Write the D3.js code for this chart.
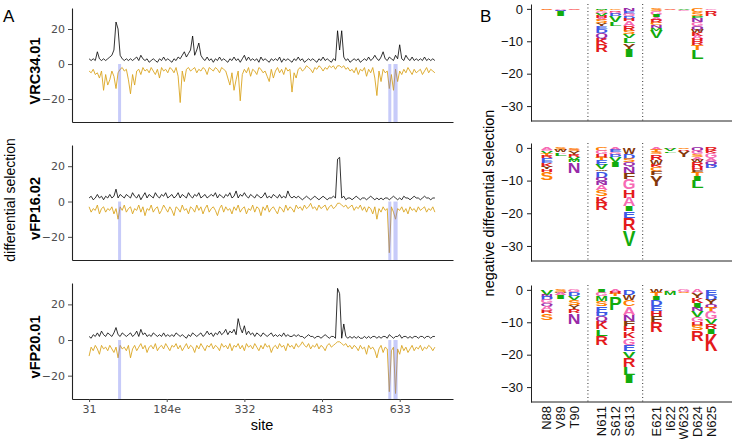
<!DOCTYPE html>
<html><head><meta charset="utf-8">
<script src="https://cdn.jsdelivr.net/npm/d3@7"></script>
<style>body{margin:0;background:#fff}</style>
</head><body><svg id="c" width="732" height="439"></svg>
<script>
// ---------------- DATA ----------------
const antibodies = ["VRC34.01", "vFP16.02", "vFP20.01"];
const xTickSites = [0, 150, 300, 450, 600];
const xTickLabels = ["31", "184e", "332", "483", "633"];
const yTicksLeft = [-20, 0, 20];
const yTicksRight = [0, -10, -20, -30];
const sampleStep = 4; // one value every 4 sequential sites
const highlightRanges = [[56, 61], [578, 583], [588, 596]];

const posVRC34 = [3,2,3,2,7,3,2,3,2,3, 4,5,8,24,20,5,3,2,3,2, 3,2,3,4,2,5,3,2,3,1, 2,3,2,1,3,2,4,2,3,2,
 1,3,2,4,3,5,7,4,6,8, 16,5,8,12,5,3,2,4,2,3, 1,3,2,4,2,3,2,1,3,2, 4,2,3,1,3,5,2,4,2,3,
 2,3,1,4,2,3,2,1,3,2, 3,2,4,1,3,2,3,2,1,3, 2,4,2,3,1,2,3,2,3,2, 1,3,2,4,2,3,2,1,3,2,
 19,8,19,4,2,3,1,2,3,2, 3,1,2,3,2,4,2,3,5,3, 2,4,7,3,2,4,3,2,5,3, 11,3,2,5,3,2,4,2,3,2,
 3,2,4,2,3,2,3,2];
const negVRC34 = [-4,-5,-3,-6,-5,-8,-4,-15,-6,-12, -9,-4,-7,-14,-5,-3,-2,-4,-3,-9, -17,-6,-12,-4,-3,-6,-2,-4,-3,-5,
 -2,-4,-6,-3,-8,-2,-4,-3,-5,-2, -3,-5,-2,-7,-22,-4,-10,-3,-2,-4, -3,-2,-5,-3,-4,-2,-3,-6,-2,-3,
 -4,-2,-3,-5,-2,-3,-4,-8,-12,-5, -15,-9,-4,-21,-6,-3,-5,-2,-7,-3, -4,-6,-2,-3,-5,-4,-7,-10,-3,-8,
 -4,-2,-5,-3,-6,-2,-4,-3,-16,-5, -8,-3,-2,-4,-3,-1,-2,-3,-5,-2, -3,-1,-2,-4,-2,-3,-1,-2,-1,-3,
 -1,-1,-2,-1,-3,-2,-4,-3,-5,-2, -6,-3,-4,-2,-7,-3,-5,-2,-8,-18, -4,-10,-3,-5,-4,-14,-6,-15,-3,-10,
 -4,-6,-3,-5,-2,-4,-6,-3,-5,-4, -3,-6,-4,-2,-5,-3,-4,-5];

const posVFP16 = [2,3,1,2,4,2,3,1,3,2, 4,2,3,7,2,4,3,2,4,3, 2,5,3,2,4,1,3,5,2,4, 3,2,5,3,2,4,3,5,2,3,
 4,2,3,5,2,4,3,2,5,3, 2,4,3,5,2,3,4,2,3,4, 3,5,2,4,3,2,4,3,5,2, 3,6,2,4,3,5,3,2,4,3,
 2,4,3,2,3,5,2,3,2,4, 3,2,4,2,3,2,6,3,2,3, 2,3,2,1,2,3,2,1,2,3, 2,1,2,3,2,1,2,2,3,2,
 24,25,2,3,1,2,2,1,2,3, 2,1,2,2,1,2,3,2,1,2, 1,2,1,2,2,1,2,3,2,1, 2,1,3,2,2,1,2,3,2,2,
 1,2,3,2,2,1,2,2];
const negVFP16 = [-3,-6,-4,-5,-2,-7,-4,-3,-6,-4, -5,-3,-7,-4,-10,-3,-5,-2,-6,-4, -3,-7,-4,-5,-2,-6,-3,-8,-4,-5,
 -2,-6,-4,-3,-7,-5,-2,-4,-6,-3, -5,-8,-3,-4,-6,-2,-5,-4,-7,-3, -4,-6,-2,-5,-3,-7,-4,-2,-6,-4,
 -3,-5,-8,-4,-2,-6,-3,-5,-4,-7, -3,-5,-2,-6,-4,-3,-7,-4,-5,-2, -6,-3,-4,-8,-3,-5,-2,-6,-4,-3,
 -5,-7,-3,-4,-6,-2,-5,-3,-4,-6, -2,-4,-3,-5,-2,-4,-3,-1,-4,-3, -5,-2,-4,-3,-2,-5,-3,-2,-4,-3,
 -1,-1,-2,-3,-2,-4,-3,-2,-5,-3, -4,-2,-5,-3,-6,-3,-4,-7,-3,-10, -4,-6,-3,-5,-4,-29,-3,-6,-10,-4,
 -5,-3,-6,-4,-7,-3,-5,-4,-6,-3, -5,-4,-3,-6,-4,-5,-3,-6];

const posVFP20 = [2,1,3,2,4,2,5,3,2,4, 3,2,4,7,3,2,4,3,2,3, 4,2,3,5,2,6,3,4,2,3, 2,4,3,2,3,2,4,2,3,2,
 3,2,4,3,2,3,2,1,3,2, 4,3,2,3,4,2,3,5,3,4, 2,4,3,5,3,4,6,3,5,4, 6,3,12,7,4,8,3,5,3,4,
 2,4,3,2,4,3,2,3,4,2, 3,2,3,2,4,2,3,2,2,3, 2,3,2,2,1,2,3,2,2,1, 2,2,1,2,3,2,1,2,2,1,
 29,26,1,9,2,1,2,1,2,1, 2,1,1,2,1,2,1,2,2,1, 2,1,2,2,1,3,2,1,2,2, 3,1,2,2,1,2,1,2,2,1,
 2,2,1,2,2,1,2,2];
const negVFP20 = [-9,-4,-6,-3,-5,-8,-3,-5,-4,-6, -3,-5,-7,-4,-10,-3,-5,-4,-6,-3, -10,-5,-3,-6,-4,-2,-5,-3,-7,-4,
 -3,-5,-2,-6,-4,-3,-5,-2,-4,-6, -3,-4,-2,-5,-3,-6,-4,-2,-5,-3, -4,-7,-3,-5,-2,-4,-6,-3,-4,-2,
 -5,-3,-4,-6,-2,-4,-3,-5,-2,-6, -3,-4,-2,-5,-3,-6,-2,-4,-3,-5, -2,-4,-6,-3,-5,-2,-4,-3,-7,-4,
 -3,-5,-2,-4,-3,-6,-2,-4,-3,-5, -2,-4,-3,-1,-3,-4,-2,-5,-3,-4, -2,-5,-3,-4,-6,-3,-2,-4,-3,-2,
 -1,-1,-2,-3,-2,-4,-3,-5,-3,-4, -6,-3,-5,-4,-8,-3,-5,-4,-6,-10, -5,-3,-7,-4,-5,-29,-6,-4,-30,-5,
 -8,-3,-6,-4,-7,-5,-3,-6,-4,-5, -3,-6,-4,-5,-3,-4,-6,-4];

const logoGroups = [["N88","V89","T90"], ["N611","S612","S613"], ["E621","I622","W623","D624","N625"]];
const logoSites = ["N88","V89","T90","N611","S612","S613","E621","I622","W623","D624","N625"];

// each column: letters from 0 downward, [amino acid, negative differential selection]
const logoVRC34 = [
 [["G",0.3],["S",0.2]],
 [["A",0.3],["N",0.3],["D",0.2],["I",1.4]],
 [["S",0.3],["G",0.2]],
 [["M",0.3],["T",0.5],["G",0.7],["V",0.8],["H",0.6],["A",0.6],["S",1.0],["Y",0.8],["E",0.8],["D",1.3],["Q",1.6],["K",1.8],["R",2.5]],
 [["C",0.4],["R",0.5],["G",0.7],["D",0.6],["V",1.8],["L",1.3]],
 [["N",0.8],["E",0.8],["G",0.7],["D",0.7],["H",0.8],["A",1.5],["R",1.6],["S",1.0],["V",1.0],["L",1.6],["Y",2.2],["I",2.3]],
 [["S",0.8],["G",1.0],["I",0.7],["A",0.8],["R",1.0],["C",0.8],["N",0.9],["M",0.7],["V",2.4]],
 [["S",0.3],["A",0.2]],
 [["V",0.4],["G",0.2]],
 [["C",1.0],["S",1.1],["P",0.9],["N",1.1],["G",1.3],["Q",1.0],["W",1.0],["K",1.0],["A",1.0],["H",0.6],["R",1.1],["T",1.5],["L",2.9]],
 [["G",0.4],["K",0.5],["R",1.0],["H",0.3]]
];
const logoVFP16 = [
 [["A",0.6],["G",0.5],["V",0.8],["T",0.6],["R",0.7],["E",1.0],["D",0.5],["K",1.0],["Y",0.9],["H",0.9],["S",2.3]],
 [["S",0.6],["W",0.7],["A",0.5],["L",0.7]],
 [["G",0.5],["S",0.6],["Y",1.0],["R",0.8],["V",0.8],["M",0.7],["N",3.2]],
 [["C",1.0],["G",1.0],["H",1.0],["T",0.6],["E",1.5],["V",1.5],["W",0.5],["D",2.1],["Q",1.0],["N",1.0],["A",1.6],["S",2.0],["K",2.0],["R",2.3]],
 [["A",0.6],["E",0.8],["G",0.7],["D",0.6],["V",1.5],["I",1.5]],
 [["W",2.0],["D",1.4],["S",1.0],["Q",1.2],["N",2.0],["F",2.0],["G",3.1],["H",2.5],["A",2.6],["I",1.5],["E",2.0],["R",3.8],["V",4.9]],
 [["A",0.6],["T",0.6],["S",0.8],["R",1.6],["W",1.5],["K",0.8],["C",1.2],["F",1.2],["Y",3.3]],
 [["G",0.4],["V",0.6],["L",0.5]],
 [["S",0.3],["R",0.5],["Y",2.0]],
 [["Q",1.0],["G",1.0],["S",0.8],["A",0.8],["W",0.8],["R",1.5],["H",1.0],["F",0.7],["T",1.0],["I",1.4],["L",2.2]],
 [["R",1.0],["K",0.6],["G",1.4],["A",0.9],["Q",1.2],["D",1.1]]
];
const logoVFP20 = [
 [["V",1.5],["N",0.7],["D",1.0],["G",1.0],["Q",0.8],["A",1.3],["R",0.8],["S",2.2]],
 [["S",0.6],["W",0.5],["A",0.6],["I",1.2]],
 [["G",0.8],["D",1.0],["V",1.3],["S",1.5],["Y",1.3],["R",1.2],["N",3.3]],
 [["I",1.0],["G",1.0],["M",1.5],["S",1.5],["E",2.0],["D",1.2],["Q",1.4],["K",2.5],["L",2.1],["R",2.9]],
 [["A",0.8],["H",0.6],["T",0.6],["P",4.2]],
 [["D",1.5],["W",1.5],["C",2.1],["A",2.6],["N",2.0],["F",1.6],["H",1.5],["K",2.1],["G",2.0],["E",2.1],["V",2.0],["R",2.8],["L",2.4],["I",2.4]],
 [["W",1.0],["T",1.0],["I",1.2],["D",1.9],["E",1.5],["H",1.5],["F",1.9],["R",3.1]],
 [["A",0.4],["M",1.1]],
 [["G",0.6],["S",0.4]],
 [["A",1.0],["Y",1.5],["K",1.5],["I",1.5],["N",1.0],["V",2.0],["G",1.5],["H",1.0],["S",1.5],["R",3.2]],
 [["E",1.5],["D",1.5],["Y",1.5],["Q",1.0],["T",1.0],["G",2.6],["V",1.5],["R",1.5],["I",1.5],["K",5.2]]
];

const aaColors = {G:"#f76ab4",A:"#f76ab4",S:"#ff7f00",T:"#ff7f00",C:"#ff7f00",
  V:"#12ab0d",L:"#12ab0d",I:"#12ab0d",M:"#12ab0d",P:"#12ab0d",
  F:"#84380b",Y:"#84380b",W:"#84380b",D:"#3c58e5",E:"#3c58e5",
  N:"#972aa8",Q:"#972aa8",H:"#e41a1c",K:"#e41a1c",R:"#e41a1c"};

// ---------------- LAYOUT ----------------
const svg = d3.select("#c");
svg.append("rect").attr("width",732).attr("height",439).attr("fill","#fff");

const posSeries = [posVRC34, posVFP16, posVFP20];
const negSeries = [negVRC34, negVFP16, negVFP20];
const logos = [logoVRC34, logoVFP16, logoVFP20];

const leftTop = [8, 145, 283], leftBottom = [122, 260, 399];
const rightTop = [4, 143, 285], rightBottom = [121, 261, 402];

const x = d3.scaleLinear().domain([-33, 703]).range([72, 453]);
const tickFont = "DejaVu Sans, sans-serif";
const arial = "Liberation Sans, Arial, Helvetica, sans-serif";

antibodies.forEach((ab, p) => {
  const y = d3.scaleLinear().domain([-33.1, 32]).range([leftBottom[p], leftTop[p]]);
  const g = svg.append("g");

  const lineFn = d3.line().x((d, i) => x(i * sampleStep)).y(d => y(d));
  g.append("path").datum(negSeries[p]).attr("d", lineFn)
    .attr("fill","none").attr("stroke","#DAA520").attr("stroke-width",0.9);
  g.append("path").datum(posSeries[p]).attr("d", lineFn)
    .attr("fill","none").attr("stroke","#000").attr("stroke-width",0.8);

  // highlighted sites
  highlightRanges.forEach(r => {
    g.append("rect").attr("x", x(r[0])).attr("width", Math.max(3, x(r[1]) - x(r[0])))
      .attr("y", y(0)).attr("height", y(-33.1) - y(0))
      .attr("fill","rgb(100,112,238)").attr("fill-opacity",0.36);
  });

  // y axis
  const ya = g.append("g").attr("transform","translate(72,0)")
    .call(d3.axisLeft(y).tickValues(yTicksLeft).tickSize(4).tickPadding(3).tickSizeOuter(0));
  ya.select(".domain").attr("stroke","#222").attr("stroke-width",1.1);
  ya.selectAll(".tick line").attr("stroke","#4d4d4d");
  ya.selectAll(".tick text").attr("fill","#4d4d4d").attr("font-size",11).attr("font-family",tickFont);

  // x axis
  const xa = g.append("g").attr("transform",`translate(0,${leftBottom[p]})`)
    .call(d3.axisBottom(x).tickValues(p === 2 ? xTickSites : []).tickFormat((d,i) => xTickLabels[i])
      .tickSize(p === 2 ? 3 : 0).tickPadding(3).tickSizeOuter(0));
  xa.select(".domain").attr("stroke","#222").attr("stroke-width",1.1);
  xa.selectAll(".tick line").attr("stroke","#4d4d4d");
  xa.selectAll(".tick text").attr("fill","#4d4d4d").attr("font-size",11).attr("font-family",tickFont);

  // panel title
  const cy = (leftTop[p] + leftBottom[p]) / 2 + 6;
  g.append("text").attr("transform",`translate(35,${cy}) rotate(-90)`)
    .attr("text-anchor","middle").attr("dy","0.35em")
    .attr("font-family",arial).attr("font-weight","bold").attr("font-size",14.5).text(ab);

  // ---------- logo ----------
  const yr = d3.scaleLinear().domain([-34.6, 1.5]).range([rightBottom[p], rightTop[p]]);
  const domainSlots = [];
  logoGroups.forEach((grp, gi) => { grp.forEach(s => domainSlots.push(s)); if (gi < logoGroups.length - 1) domainSlots.push("gap" + gi); });
  const xr = d3.scaleBand().domain(domainSlots).range([540, 718]);
  const gl = svg.append("g");

  // dotted separators
  domainSlots.filter(s => s.startsWith("gap")).forEach(s => {
    const gx = xr(s) + xr.bandwidth() / 2;
    gl.append("line").attr("x1",gx).attr("x2",gx).attr("y1",rightTop[p]).attr("y2",rightBottom[p])
      .attr("stroke","#333").attr("stroke-width",1).attr("stroke-dasharray","1,2.5");
  });

  const w = xr.bandwidth() * 0.93;
  logos[p].forEach((col, ci) => {
    const cx = xr(logoSites[ci]) + xr.bandwidth() / 2;
    let acc = 0;
    col.forEach(([aa, h]) => {
      const yTop = yr(-acc);
      acc += h;
      const yBot = yr(-acc);
      const ph = yBot - yTop;
      if (ph < 0.05) return;
      const t = gl.append("text").text(aa).attr("font-family",arial).attr("font-weight","bold")
        .attr("font-size",100).attr("text-anchor","middle").attr("fill",aaColors[aa]);
      const adv = t.node().getComputedTextLength() || 70;
      t.attr("transform",`translate(${cx},${yBot}) scale(${w/adv},${ph/71.6})`);
    });
  });

  const yra = gl.append("g").attr("transform","translate(531,0)")
    .call(d3.axisLeft(yr).tickValues(yTicksRight).tickSize(4).tickPadding(4).tickSizeOuter(0)
      .tickFormat(d => d === 0 ? "0" : "\u2212" + Math.abs(d)));
  yra.select(".domain").attr("stroke","#222").attr("stroke-width",1);
  yra.selectAll(".tick line").attr("stroke","#222");
  yra.selectAll(".tick text").attr("fill","#111").attr("font-size",13).attr("font-family",arial);

  gl.append("line").attr("x1",531).attr("x2",732).attr("y1",rightBottom[p]).attr("y2",rightBottom[p])
    .attr("stroke","#222").attr("stroke-width",1);

  if (p === 2) {
    logoSites.forEach(s => {
      const cx = xr(s) + xr.bandwidth() / 2;
      gl.append("text").attr("transform",`translate(${cx},${rightBottom[p] + 4}) rotate(-90)`)
        .attr("text-anchor","end").attr("dy","0.35em").attr("font-family",arial)
        .attr("font-size",13).attr("fill","#111").text(s);
    });
  }
});

// titles
svg.append("text").attr("x",3).attr("y",22).attr("font-family",arial).attr("font-size",17).text("A");
svg.append("text").attr("x",480).attr("y",22).attr("font-family",arial).attr("font-size",17).text("B");
svg.append("text").attr("x",262).attr("y",430).attr("text-anchor","middle").attr("font-family",arial).attr("font-size",14.5).text("site");
svg.append("text").attr("transform","translate(10,200) rotate(-90)").attr("text-anchor","middle").attr("dy","0.35em")
  .attr("font-family",arial).attr("font-size",14).text("differential selection");
svg.append("text").attr("transform","translate(489,203) rotate(-90)").attr("text-anchor","middle").attr("dy","0.35em")
  .attr("font-family",arial).attr("font-size",14.5).text("negative differential selection");
</script>
</body></html>
